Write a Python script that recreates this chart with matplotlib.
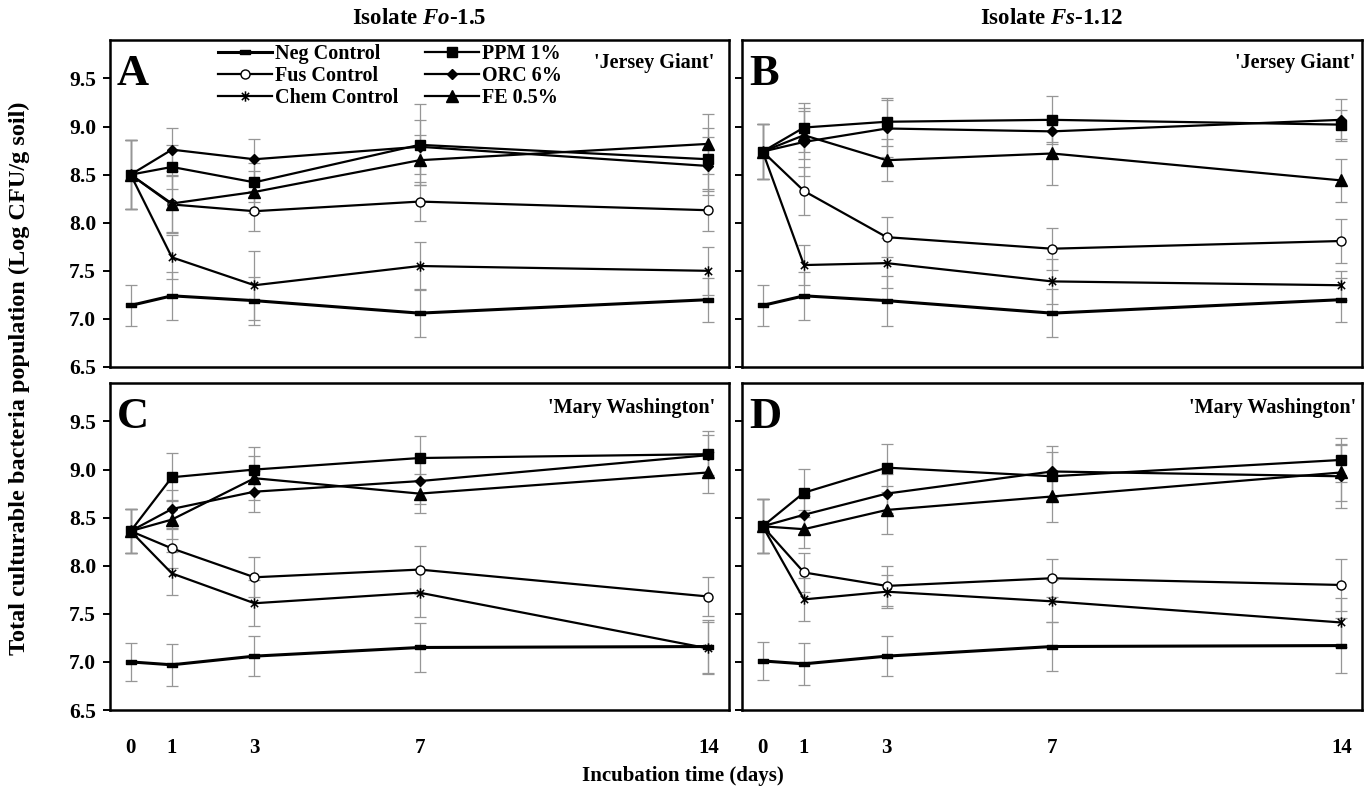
import matplotlib
matplotlib.use("Agg")
import matplotlib.pyplot as plt
from matplotlib.path import Path

# ---------------- data ----------------
days = [0, 1, 3, 7, 14]
series = ["Neg Control", "Fus Control", "Chem Control", "PPM 1%", "ORC 6%", "FE 0.5%"]
panel_letters = ["A", "B", "C", "D"]
cultivars = ["'Jersey Giant'", "'Jersey Giant'", "'Mary Washington'", "'Mary Washington'"]
isolate_titles = [r"Isolate $\mathit{Fo}$-1.5", r"Isolate $\mathit{Fs}$-1.12"]
y_ticks = [6.5, 7.0, 7.5, 8.0, 8.5, 9.0, 9.5]

mean_A = {
    "Neg Control":  [7.14, 7.24, 7.19, 7.06, 7.20],
    "Fus Control":  [8.50, 8.19, 8.12, 8.22, 8.13],
    "Chem Control": [8.50, 7.64, 7.35, 7.55, 7.50],
    "PPM 1%":       [8.50, 8.58, 8.42, 8.81, 8.66],
    "ORC 6%":       [8.50, 8.76, 8.66, 8.79, 8.59],
    "FE 0.5%":      [8.50, 8.20, 8.32, 8.65, 8.82],
}
err_A = {
    "Neg Control":  [0.21, 0.25, 0.25, 0.25, 0.23],
    "Fus Control":  [0.36, 0.30, 0.21, 0.20, 0.22],
    "Chem Control": [0.36, 0.23, 0.36, 0.25, 0.25],
    "PPM 1%":       [0.36, 0.23, 0.20, 0.42, 0.33],
    "ORC 6%":       [0.36, 0.22, 0.21, 0.28, 0.30],
    "FE 0.5%":      [0.36, 0.30, 0.22, 0.26, 0.31],
}
mean_B = {
    "Neg Control":  [7.14, 7.24, 7.19, 7.06, 7.20],
    "Fus Control":  [8.74, 8.33, 7.85, 7.73, 7.81],
    "Chem Control": [8.74, 7.56, 7.58, 7.39, 7.35],
    "PPM 1%":       [8.74, 8.99, 9.05, 9.07, 9.02],
    "ORC 6%":       [8.74, 8.84, 8.98, 8.95, 9.07],
    "FE 0.5%":      [8.74, 8.91, 8.65, 8.72, 8.44],
}
err_B = {
    "Neg Control":  [0.21, 0.25, 0.26, 0.25, 0.23],
    "Fus Control":  [0.29, 0.25, 0.21, 0.22, 0.23],
    "Chem Control": [0.29, 0.21, 0.26, 0.23, 0.15],
    "PPM 1%":       [0.29, 0.25, 0.25, 0.25, 0.15],
    "ORC 6%":       [0.29, 0.35, 0.30, 0.11, 0.22],
    "FE 0.5%":      [0.29, 0.25, 0.22, 0.33, 0.22],
}
mean_C = {
    "Neg Control":  [7.00, 6.97, 7.06, 7.15, 7.16],
    "Fus Control":  [8.36, 8.18, 7.88, 7.96, 7.68],
    "Chem Control": [8.36, 7.92, 7.61, 7.72, 7.14],
    "PPM 1%":       [8.36, 8.92, 9.00, 9.12, 9.16],
    "ORC 6%":       [8.36, 8.59, 8.77, 8.88, 9.15],
    "FE 0.5%":      [8.36, 8.48, 8.91, 8.75, 8.97],
}
err_C = {
    "Neg Control":  [0.20, 0.22, 0.21, 0.25, 0.28],
    "Fus Control":  [0.23, 0.20, 0.21, 0.25, 0.20],
    "Chem Control": [0.23, 0.22, 0.24, 0.25, 0.27],
    "PPM 1%":       [0.23, 0.25, 0.23, 0.23, 0.24],
    "ORC 6%":       [0.23, 0.20, 0.21, 0.24, 0.21],
    "FE 0.5%":      [0.23, 0.20, 0.23, 0.20, 0.21],
}
mean_D = {
    "Neg Control":  [7.01, 6.98, 7.06, 7.16, 7.17],
    "Fus Control":  [8.41, 7.93, 7.79, 7.87, 7.80],
    "Chem Control": [8.41, 7.65, 7.73, 7.63, 7.41],
    "PPM 1%":       [8.41, 8.76, 9.02, 8.93, 9.10],
    "ORC 6%":       [8.41, 8.53, 8.75, 8.98, 8.93],
    "FE 0.5%":      [8.41, 8.38, 8.58, 8.72, 8.97],
}
err_D = {
    "Neg Control":  [0.20, 0.22, 0.21, 0.25, 0.29],
    "Fus Control":  [0.28, 0.20, 0.21, 0.20, 0.27],
    "Chem Control": [0.28, 0.22, 0.17, 0.22, 0.25],
    "PPM 1%":       [0.28, 0.25, 0.25, 0.25, 0.23],
    "ORC 6%":       [0.28, 0.20, 0.20, 0.27, 0.33],
    "FE 0.5%":      [0.28, 0.20, 0.25, 0.27, 0.30],
}

# ---------------- styling ----------------
SERIF = "Liberation Serif"
plt.rcParams["font.family"] = SERIF
plt.rcParams["font.weight"] = "bold"
plt.rcParams["mathtext.fontset"] = "custom"
plt.rcParams["mathtext.rm"] = "Liberation Serif:bold"
plt.rcParams["mathtext.it"] = "Liberation Serif:italic:bold"

# small horizontal bar marker for the negative control
bar_marker = Path([(-1, -0.55), (1, -0.55), (1, 0.55), (-1, 0.55), (-1, -0.55)],
                  [Path.MOVETO, Path.LINETO, Path.LINETO, Path.LINETO, Path.CLOSEPOLY])
# x with a vertical stroke for the chemical control
star_marker = Path([(-0.7, -0.7), (0.7, 0.7), (-0.7, 0.7), (0.7, -0.7), (0, -1), (0, 1)],
                   [Path.MOVETO, Path.LINETO, Path.MOVETO, Path.LINETO, Path.MOVETO, Path.LINETO])

styles = {
    "Neg Control":  dict(marker=bar_marker, ms=6.5, mfc="black", mec="black", lw=2.2),
    "Fus Control":  dict(marker="o", ms=6.5, mfc="white", mec="black", mew=1.0, lw=1.6),
    "Chem Control": dict(marker=star_marker, ms=7.5, mfc="none", mec="black", mew=1.1, lw=1.6),
    "PPM 1%":       dict(marker="s", ms=7.5, mfc="black", mec="black", lw=1.6),
    "ORC 6%":       dict(marker="D", ms=5.5, mfc="black", mec="black", lw=1.6),
    "FE 0.5%":      dict(marker="^", ms=8, mfc="black", mec="black", lw=1.6),
}

W, H = 1366, 790
fig = plt.figure(figsize=(W / 100, H / 100), dpi=100)

# panel boxes in pixels: left, right, top, bottom
boxes = [(110, 729, 40, 367), (742, 1362, 40, 367),
         (110, 729, 383, 710), (742, 1362, 383, 710)]
means = [mean_A, mean_B, mean_C, mean_D]
errs = [err_A, err_B, err_C, err_D]

axes = []
for i, (l, r, t, b) in enumerate(boxes):
    ax = fig.add_axes([l / W, 1 - b / H, (r - l) / W, (b - t) / H])
    axes.append(ax)
    m, e = means[i], errs[i]
    for name in series:
        ax.errorbar(days, m[name], yerr=e[name], fmt="none", ecolor="#969696",
                    elinewidth=0.9, capsize=4.5, capthick=0.9, zorder=1)
    for name in series:
        st = styles[name]
        ax.plot(days, m[name], color="black", marker=st["marker"], markersize=st["ms"],
                markerfacecolor=st["mfc"], markeredgecolor=st["mec"],
                markeredgewidth=st.get("mew", 1.0), linewidth=st["lw"],
                label=name, zorder=3)
    ax.set_xlim(-0.5, 14.5)
    ax.set_ylim(6.5, 9.9)
    ax.set_yticks(y_ticks)
    ax.set_xticks(days)
    ax.set_yticklabels([f"{v:.1f}" for v in y_ticks])
    ax.tick_params(axis="y", direction="out", length=5, width=1.4, pad=5,
                   labelsize=15.5, labelleft=(i % 2 == 0))
    ax.tick_params(axis="x", length=0, pad=20, labelsize=15, labelbottom=(i >= 2))
    for sp in ax.spines.values():
        sp.set_linewidth(1.8)
    ax.text(0.011, 0.862, panel_letters[i], transform=ax.transAxes, fontsize=32,
            fontweight="bold", ha="left", va="baseline")
    cx = 0.977 if i % 2 == 0 else 0.99
    cy = 0.914 if i < 2 else 0.908
    ax.text(cx, cy, cultivars[i], transform=ax.transAxes, fontsize=14.5,
            fontweight="bold", ha="right", va="baseline")

# column titles
for j, title in enumerate(isolate_titles):
    l, r, t, b = boxes[j]
    fig.text((l + r) / 2 / W, 1 - 18 / H, title, ha="center", va="center",
             fontsize=16.5, fontweight="bold")

# legend inside panel A
handles, labels = axes[0].get_legend_handles_labels()
axes[0].legend(handles, labels, ncol=2, loc="upper left",
               bbox_to_anchor=(218 / W, 1 - 44 / H), bbox_transform=fig.transFigure,
               frameon=False, borderaxespad=0, borderpad=0, handlelength=2.7,
               handletextpad=0.15, columnspacing=1.3, labelspacing=0.09,
               prop=dict(family=SERIF, weight="bold", size=14.5))

fig.text(683 / W, 1 - 776 / H, "Incubation time (days)", ha="center", va="center",
         fontsize=15, fontweight="bold")
fig.text(19 / W, 1 - 378 / H, "Total culturable bacteria population (Log CFU/g soil)",
         ha="center", va="center", rotation=90, fontsize=17.5, fontweight="bold")

fig.savefig("out.png", dpi=100)
